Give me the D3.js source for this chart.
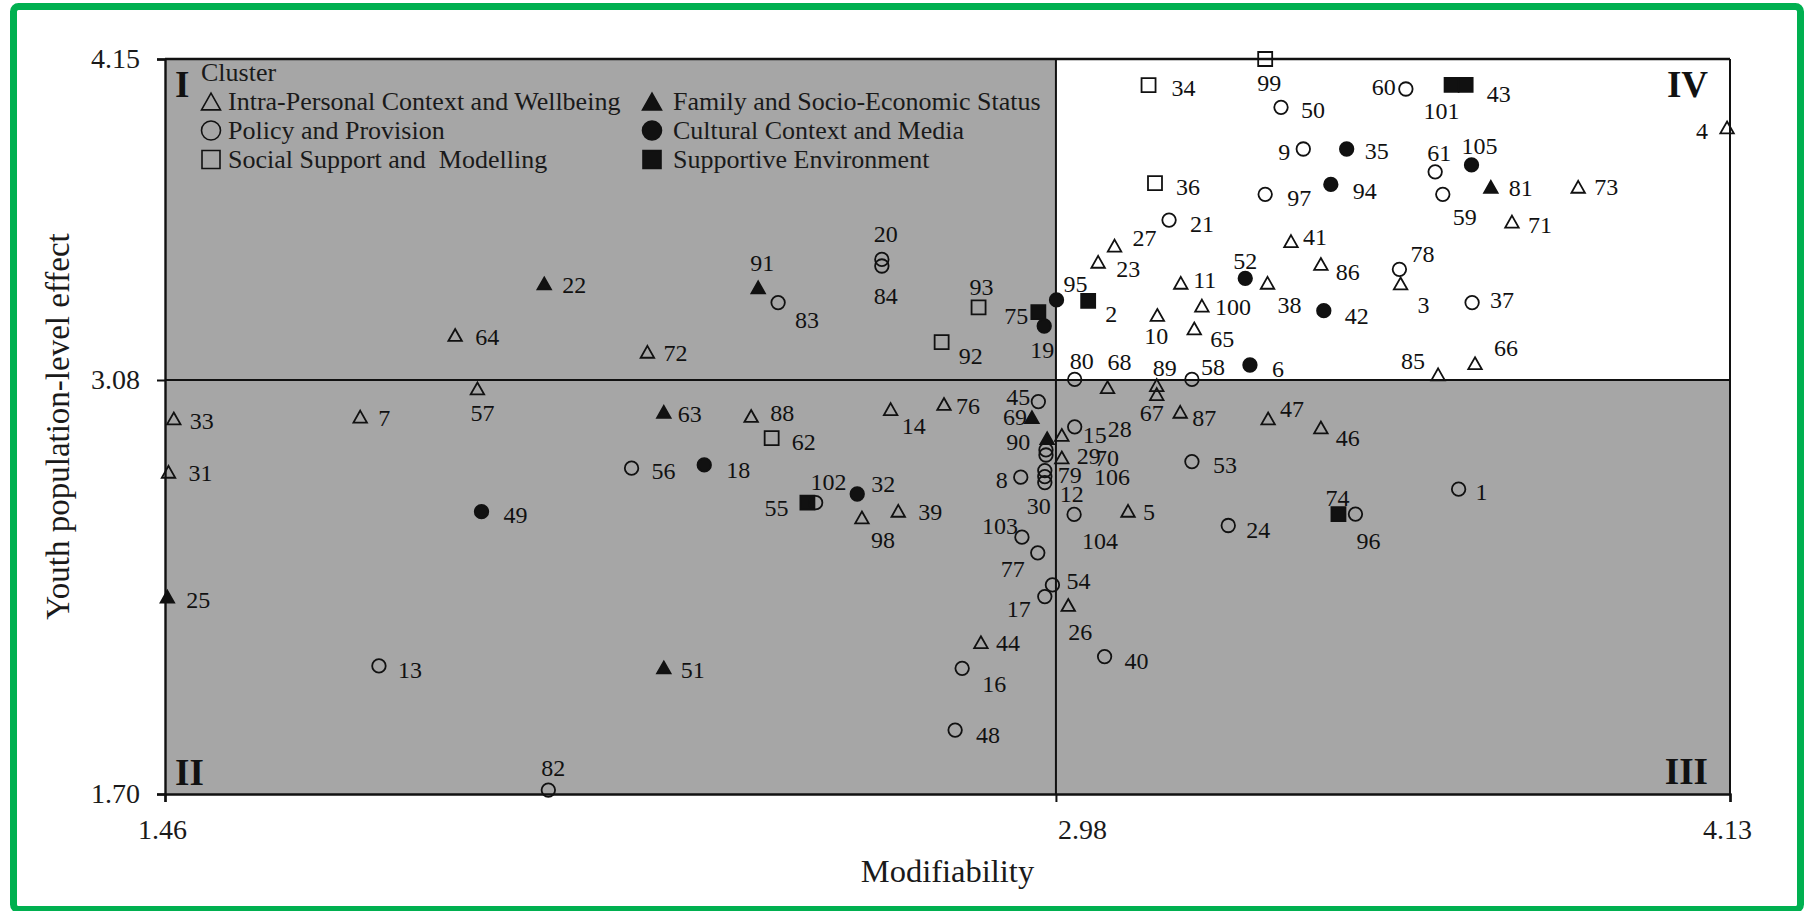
<!DOCTYPE html>
<html>
<head>
<meta charset="utf-8">
<script src="https://cdn.jsdelivr.net/npm/d3@7"></script>
<style>
  body { margin: 0; background: #fff; }
  svg { display: block; font-family: "Liberation Serif", "Times New Roman", serif; }
</style>
</head>
<body>
<svg id="chart" width="1804" height="911"></svg>
<script>
// ---------------- DATA ----------------
const clusterNames = [
  "Intra-Personal Context and Wellbeing",
  "Policy and Provision",
  "Social Support and  Modelling",
  "Family and Socio-Economic Status",
  "Cultural Context and Media",
  "Supportive Environment"
];
const clusterShapes = ["triangle", "circle", "square", "triangle", "circle", "square"];
const clusterFilled = [false, false, false, true, true, true];

const pointIds = [
  1,2,3,4,5,6,7,8,9,10,11,12,13,14,15,16,17,18,19,20,
  21,22,23,24,25,26,27,28,29,30,31,32,33,34,35,36,37,38,39,40,
  41,42,43,44,45,46,47,48,49,50,51,52,53,54,55,56,57,58,59,60,
  61,62,63,64,65,66,67,68,69,70,71,72,73,74,75,76,77,78,79,80,
  81,82,83,84,85,86,87,88,89,90,91,92,93,94,95,96,97,98,99,100,
  101,102,103,104,105,106
];
const modifiability = [
  3.667,3.035,3.568,4.125,3.103,3.311,1.793,2.920,3.402,3.153,
  3.193,2.961,1.825,2.698,3.012,2.820,2.961,2.380,2.960,2.683,
  3.173,2.107,3.052,3.274,1.464,3.001,3.080,2.990,2.990,2.961,
  1.466,2.641,1.475,3.138,3.476,3.149,3.690,3.341,2.711,3.063,
  3.381,3.437,3.679,2.852,2.950,3.432,3.342,2.808,2.000,3.364,
  2.311,3.303,3.212,2.974,2.556,2.256,1.993,3.212,3.640,3.577,
  3.627,2.495,2.311,1.955,3.216,3.695,3.152,3.068,2.939,2.963,
  3.758,2.283,3.871,3.462,2.950,2.789,2.949,3.566,2.961,3.012,
  3.722,2.114,2.506,2.683,3.632,3.432,3.192,2.460,3.152,2.965,
  2.472,2.785,2.848,3.449,2.981,3.491,3.337,2.649,3.337,3.229,
  3.655,2.570,2.922,3.011,3.689,2.963
];
const youthEffect = [
  2.716,3.344,3.402,3.922,2.644,3.130,2.958,2.756,3.850,3.297,
  3.404,2.758,2.127,2.983,2.924,2.119,2.358,2.797,3.260,3.482,
  3.613,3.402,3.474,2.595,2.358,2.330,3.528,2.897,2.822,2.738,
  2.774,2.700,2.952,4.063,3.850,3.736,3.338,3.404,2.644,2.158,
  3.543,3.311,4.064,2.206,3.008,2.922,2.952,1.913,2.641,3.989,
  2.122,3.419,2.808,2.397,2.671,2.786,3.052,3.082,3.699,4.050,
  3.774,2.886,2.974,3.230,3.252,3.136,3.033,3.056,2.956,2.847,
  3.608,3.174,3.724,2.633,3.306,3.000,2.504,3.449,2.778,3.082,
  3.724,1.713,3.338,3.460,3.099,3.467,2.974,2.960,3.063,2.886,
  3.389,3.206,3.322,3.732,3.347,2.633,3.699,2.622,4.150,3.328,
  4.064,2.671,2.556,2.632,3.797,2.830
];
const pointCluster = [
  1,5,0,0,0,4,0,1,1,0,
  0,1,1,0,1,1,1,4,4,1,
  1,3,0,1,3,0,0,0,0,1,
  0,4,0,2,4,2,1,0,0,1,
  0,4,5,0,1,0,0,1,4,1,
  3,4,1,1,5,1,0,1,1,1,
  1,2,3,0,0,0,0,0,3,1,
  0,0,0,5,5,0,1,1,1,1,
  3,1,1,1,0,0,0,0,0,3,
  3,2,2,4,4,1,1,0,2,0,
  5,1,1,1,4,1
];
const xTickValues = [1.46, 2.98, 4.13];
const yTickValues = [1.70, 3.08, 4.15];
const xDomain = [1.46, 4.13];
const yDomain = [1.70, 4.15];
const xSplit = 2.98, ySplit = 3.08;
const xTitle = "Modifiability";
const yTitle = "Youth population-level effect";
const legendTitle = "Cluster";
const quadrantNames = ["I", "II", "III", "IV"];

// label placement (px from marker centre to label centre) - layout only
const labelOffsets = {
  1:[23,3],2:[23,13],3:[23,21],4:[-25,3],5:[21,1],6:[28,4],7:[24,1],8:[-19,3],9:[-19,3],10:[-1,21],
  11:[24,-3],12:[27,17],13:[31,4],14:[23,17],15:[20,8],16:[32,16],17:[-26,12],18:[34,5],19:[-2,24],20:[4,-26],
  21:[33,4],22:[30,1],23:[30,7],24:[30,4],25:[31,3],26:[12,27],27:[30,-8],28:[58,-6],29:[27,-2],30:[-6,23],
  31:[32,1],32:[26,-10],33:[28,2],34:[35,3],35:[30,2],36:[33,4],37:[30,-3],38:[22,22],39:[32,1],40:[32,4],
  41:[24,-4],42:[33,5],43:[33,9],44:[27,1],45:[-20,-5],46:[27,10],47:[24,-10],48:[33,5],49:[34,3],50:[32,3],
  51:[29,2],52:[0,-17],53:[33,3],54:[26,-4],55:[-31,5],56:[32,3],57:[5,24],58:[21,-13],59:[22,23],60:[-22,-2],
  61:[4,-19],62:[32,4],63:[26,2],64:[32,2],65:[28,10],66:[31,-15],67:[-5,19],68:[12,-25],69:[-17,0],70:[61,8],
  71:[28,3],72:[28,1],73:[28,0],74:[-1,-16],75:[-22,4],76:[24,2],77:[-25,16],78:[23,-15],79:[25,4],80:[7,-19],
  81:[30,1],82:[5,-22],83:[29,17],84:[4,30],85:[-25,-13],86:[27,8],87:[24,6],88:[31,-3],89:[8,-17],90:[-29,4],
  91:[4,-24],92:[29,14],93:[3,-21],94:[34,6],95:[19,-16],96:[13,27],97:[34,4],98:[21,22],99:[4,24],100:[31,1],
  101:[-10,26],102:[13,-21],103:[-22,-11],104:[26,26],105:[8,-19],106:[66,22]
};

// ---------------- CHART ----------------
const svg = d3.select("#chart");
const W = 1804, H = 911;
const plot = { left: 165, right: 1730, top: 59, bottom: 794 };
const x = d3.scaleLinear().domain(xDomain).range([plot.left, plot.right]);
const y = d3.scaleLinear().domain(yDomain).range([plot.bottom, plot.top]);
const GRAY = "#a6a6a6";
const INK = "#111";

svg.append("rect").attr("width", W).attr("height", H).attr("fill", "#fff");

// quadrant backgrounds
const quads = [
  { x0: xDomain[0], x1: xSplit, y0: ySplit, y1: yDomain[1], fill: GRAY },   // I
  { x0: xDomain[0], x1: xSplit, y0: yDomain[0], y1: ySplit, fill: GRAY },   // II
  { x0: xSplit, x1: xDomain[1], y0: yDomain[0], y1: ySplit, fill: GRAY },   // III
  { x0: xSplit, x1: xDomain[1], y0: ySplit, y1: yDomain[1], fill: "#fff" }  // IV
];
svg.append("g").selectAll("rect").data(quads).join("rect")
  .attr("x", d => x(d.x0)).attr("y", d => y(d.y1))
  .attr("width", d => x(d.x1) - x(d.x0)).attr("height", d => y(d.y0) - y(d.y1))
  .attr("fill", d => d.fill);

// frame lines (top, right)
svg.append("line").attr("x1", plot.left).attr("x2", plot.right).attr("y1", plot.top).attr("y2", plot.top)
  .attr("stroke", INK).attr("stroke-width", 2.4);
svg.append("line").attr("x1", plot.right).attr("x2", plot.right).attr("y1", plot.top).attr("y2", plot.bottom)
  .attr("stroke", INK).attr("stroke-width", 2);

// split lines
svg.append("line").attr("x1", x(xSplit)).attr("x2", x(xSplit)).attr("y1", plot.top).attr("y2", plot.bottom)
  .attr("stroke", INK).attr("stroke-width", 2);
svg.append("line").attr("x1", plot.left).attr("x2", plot.right).attr("y1", y(ySplit)).attr("y2", y(ySplit))
  .attr("stroke", INK).attr("stroke-width", 2);

// axes
const xAxis = d3.axisBottom(x).tickValues(xTickValues).tickSize(8).tickPadding(17).tickFormat(d3.format(".2f"));
const yAxis = d3.axisLeft(y).tickValues(yTickValues).tickSize(8).tickPadding(17).tickFormat(d3.format(".2f"));
const gx = svg.append("g").attr("transform", `translate(0,${plot.bottom})`).call(xAxis);
const gy = svg.append("g").attr("transform", `translate(${plot.left},0)`).call(yAxis);
[gx, gy].forEach(g => {
  g.select(".domain").attr("stroke", INK).attr("stroke-width", 2.4);
  g.selectAll(".tick line").attr("stroke", INK).attr("stroke-width", 2);
  g.selectAll(".tick text").attr("fill", "#1a1a1a").attr("font-size", 28)
    .attr("font-family", "Liberation Serif, Times New Roman, serif");
});
gx.selectAll(".tick text").attr("dx", d => d === xSplit ? 26 : -3);

// axis titles
svg.append("text").attr("x", (plot.left + plot.right) / 2).attr("y", 882)
  .attr("text-anchor", "middle").attr("font-size", 32.5).attr("fill", "#1a1a1a").text(xTitle);
svg.append("text").attr("transform", `translate(69,${(plot.top + plot.bottom) / 2}) rotate(-90)`)
  .attr("text-anchor", "middle").attr("font-size", 33).attr("fill", "#1a1a1a").text(yTitle);

// quadrant labels
const qPos = [
  { x: plot.left + 10, y: plot.top + 38, anchor: "start" },
  { x: plot.left + 10, y: plot.bottom - 9, anchor: "start" },
  { x: plot.right - 22, y: plot.bottom - 10, anchor: "end" },
  { x: plot.right - 22, y: plot.top + 38, anchor: "end" }
];
svg.append("g").selectAll("text").data(quadrantNames).join("text")
  .attr("x", (d, i) => qPos[i].x).attr("y", (d, i) => qPos[i].y)
  .attr("text-anchor", (d, i) => qPos[i].anchor)
  .attr("font-size", 37).attr("font-weight", "bold").attr("fill", INK).text(d => d);

// symbol helper
const triType = {
  draw(ctx, size) {
    const w = Math.sqrt(size), h = w * 0.88;
    ctx.moveTo(0, -h / 2); ctx.lineTo(w / 2, h / 2); ctx.lineTo(-w / 2, h / 2); ctx.closePath();
  }
};
const sqType = {
  draw(ctx, size) { const s = Math.sqrt(size); ctx.rect(-s / 2, -s / 2, s, s); }
};
const circType = {
  draw(ctx, size) { const r = Math.sqrt(size) / 2; ctx.moveTo(r, 0); ctx.arc(0, 0, r, 0, 2 * Math.PI); }
};
function symPath(shape, dim) {
  const t = shape === "triangle" ? triType : shape === "square" ? sqType : circType;
  return d3.symbol().type(t).size(dim * dim)();
}
const markerDim = { triangle: 13.5, circle: 13.5, square: 14 };

// points
const points = pointIds.map((id, i) => ({
  id, mx: modifiability[i], ey: youthEffect[i], c: pointCluster[i]
}));
const gp = svg.append("g");
gp.selectAll("path").data(points).join("path")
  .attr("transform", d => `translate(${x(d.mx)},${y(d.ey)})`)
  .attr("d", d => symPath(clusterShapes[d.c], markerDim[clusterShapes[d.c]]))
  .attr("fill", d => clusterFilled[d.c] ? INK : "none")
  .attr("stroke", INK).attr("stroke-width", 1.8);

// point labels
svg.append("g").selectAll("text").data(points).join("text")
  .attr("x", d => x(d.mx) + (labelOffsets[d.id] || [22, 2])[0])
  .attr("y", d => y(d.ey) + (labelOffsets[d.id] || [22, 2])[1])
  .attr("dy", "0.34em").attr("text-anchor", "middle")
  .attr("font-size", 24).attr("fill", "#111").text(d => d.id);

// legend
const lg = svg.append("g");
lg.append("text").attr("x", 201).attr("y", 81).attr("font-size", 26).attr("fill", "#1a1a1a").text(legendTitle);
const legendItems = clusterNames.map((name, i) => ({
  name, i, col: i < 3 ? 0 : 1, row: i % 3
}));
const colSym = [211, 652], colText = [228, 673];
const rowBase = [109.5, 138.5, 167.5];
const li = lg.selectAll("g.item").data(legendItems).join("g").attr("class", "item");
li.append("path")
  .attr("transform", d => `translate(${colSym[d.col]},${rowBase[d.row] - 8})`)
  .attr("d", d => symPath(clusterShapes[d.i], clusterShapes[d.i] === "square" ? 18 : 19))
  .attr("fill", d => clusterFilled[d.i] ? INK : "none")
  .attr("stroke", INK).attr("stroke-width", 1.6);
li.append("text")
  .attr("x", d => colText[d.col]).attr("y", d => rowBase[d.row])
  .attr("font-size", 26).attr("fill", "#1a1a1a").style("white-space", "pre").text(d => d.name);

// green frame
svg.append("rect").attr("x", 13.5).attr("y", 6.5).attr("width", 1787).attr("height", 903)
  .attr("rx", 5).attr("fill", "none").attr("stroke", "#00b050").attr("stroke-width", 7);
</script>
</body>
</html>
